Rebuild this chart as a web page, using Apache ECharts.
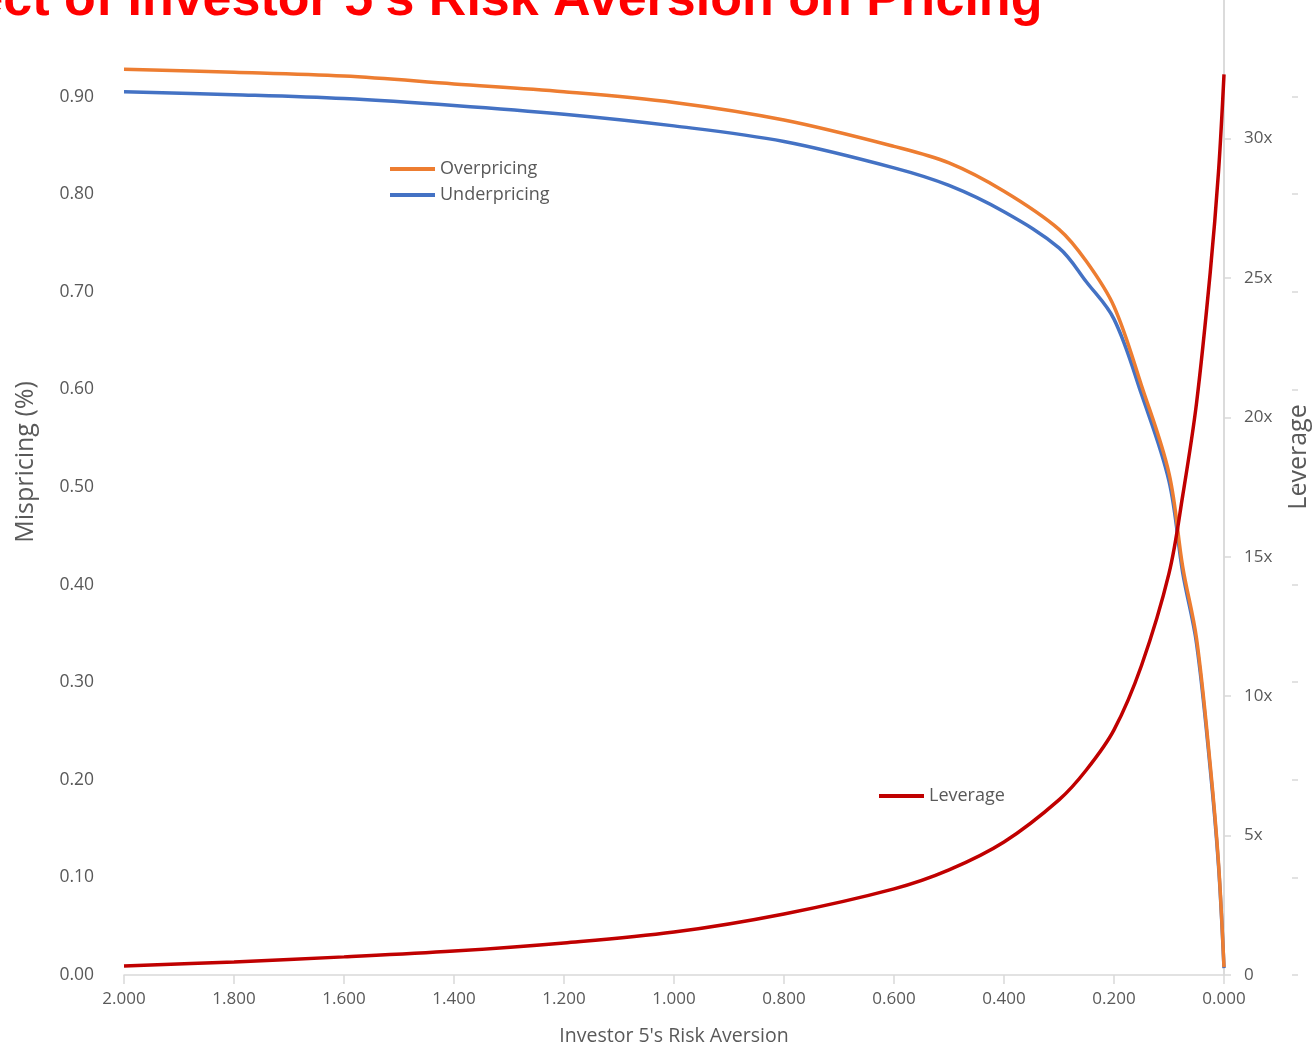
<!DOCTYPE html>
<html>
<head>
<meta charset="utf-8">
<script src="https://cdn.jsdelivr.net/npm/echarts@6/dist/echarts.min.js"></script>
<style>
  html, body { margin: 0; padding: 0; background: #fff; overflow: hidden; }
  #chart { width: 1312px; height: 1053px; }
</style>
</head>
<body>
<div id="chart"></div>
<script>
// Investor 5's risk aversion (x) and the resulting mispricing / leverage
const riskAversion = [2.0, 1.8, 1.6, 1.4, 1.2, 1.0, 0.8, 0.6, 0.5, 0.4, 0.3, 0.25, 0.2, 0.15, 0.1, 0.075, 0.05, 0.025, 0.01, 0.0];
const overpricing  = [0.928, 0.925, 0.921, 0.913, 0.905, 0.894, 0.876, 0.849, 0.832, 0.803, 0.764, 0.731, 0.685, 0.604, 0.514, 0.418, 0.345, 0.215, 0.115, 0.008];
const underpricing = [0.905, 0.902, 0.898, 0.891, 0.882, 0.870, 0.854, 0.827, 0.809, 0.782, 0.745, 0.710, 0.672, 0.595, 0.506, 0.412, 0.340, 0.211, 0.112, 0.007];
const leverage     = [0.32, 0.47, 0.65, 0.86, 1.15, 1.54, 2.19, 3.09, 3.77, 4.77, 6.28, 7.36, 8.79, 11.1, 14.4, 17.2, 20.5, 25.2, 28.8, 32.3];

const pairs = vals => riskAversion.map((x, i) => [x, vals[i]]);

const GREY = '#595959';
const AXIS = '#D9D9D9';
const FONT = '"Open Sans", "Noto Sans", sans-serif';

const chart = echarts.init(document.getElementById('chart'), null, { renderer: 'canvas' });

chart.setOption({
  backgroundColor: '#ffffff',
  animation: false,
  title: {
    text: "Effect of Investor 5's Risk Aversion on Pricing",
    left: -100,
    top: -30,
    textStyle: { color: '#FF0000', fontSize: 52, fontWeight: 'bold', fontFamily: 'Arial, "Liberation Sans", sans-serif' }
  },
  grid: { left: 124, width: 1100, top: -1, height: 976, containLabel: false, outerBoundsMode: 'none' },
  legend: [
    {
      data: ['Overpricing', 'Underpricing'],
      orient: 'vertical',
      left: 385, top: 155,
      icon: 'rect', itemWidth: 45, itemHeight: 4, itemGap: 8,
      textStyle: { color: GREY, fontSize: 18, fontFamily: FONT }
    },
    {
      data: ['Leverage'],
      left: 874, top: 782,
      icon: 'rect', itemWidth: 45, itemHeight: 4,
      textStyle: { color: GREY, fontSize: 18, fontFamily: FONT }
    }
  ],
  xAxis: {
    type: 'value', inverse: true, min: 0, max: 2, interval: 0.2,
    name: "Investor 5's Risk Aversion", nameLocation: 'middle', nameGap: 51,
    nameTextStyle: { color: GREY, fontSize: 19.5, fontFamily: FONT },
    axisLine: { show: true, lineStyle: { color: AXIS, width: 1.5 } },
    axisTick: { show: true, length: 9, lineStyle: { color: AXIS, width: 1.5 } },
    axisLabel: { color: GREY, fontSize: 17, fontFamily: FONT, margin: 16, formatter: v => v.toFixed(3) },
    splitLine: { show: false }
  },
  yAxis: [
    {
      type: 'value', position: 'left', min: 0, max: 1, interval: 0.1,
      name: 'Mispricing (%)', nameLocation: 'middle', nameGap: 86,
      nameTextStyle: { color: GREY, fontSize: 25, fontFamily: FONT, padding: [0, 0, 0, 50] },
      axisLine: { show: true, lineStyle: { color: AXIS, width: 1.5 } },
      axisTick: { show: false },
      axisLabel: { color: GREY, fontSize: 17.5, fontFamily: FONT, margin: 30, showMaxLabel: false, formatter: v => v.toFixed(2) },
      splitLine: { show: false }
    },
    {
      type: 'value', position: 'right', min: 0, max: 35, interval: 5,
      name: 'Leverage', nameLocation: 'middle', nameGap: 62,
      nameTextStyle: { color: GREY, fontSize: 25, fontFamily: FONT, padding: [0, 0, 0, 60] },
      axisLine: { show: true, lineStyle: { color: AXIS, width: 1.5 } },
      axisTick: { show: true, length: 7, lineStyle: { color: AXIS, width: 1.5 } },
      axisLabel: { color: GREY, fontSize: 17, fontFamily: FONT, margin: 20, showMaxLabel: false, formatter: v => v === 0 ? '0' : v + 'x' },
      splitLine: { show: false }
    },
    {
      // secondary tick strip repeating the mispricing scale on the far right
      type: 'value', position: 'right', offset: 68, min: 0, max: 1, interval: 0.1,
      axisLine: { show: false },
      axisTick: { show: true, length: 6, lineStyle: { color: AXIS, width: 1.5 } },
      axisLabel: { show: false },
      splitLine: { show: false }
    }
  ],
  series: [
    {
      name: 'Underpricing', type: 'line', yAxisIndex: 0, data: pairs(underpricing),
      smooth: 0.35, showSymbol: false, symbol: 'none',
      color: '#4472C4', lineStyle: { color: '#4472C4', width: 3.5 }
    },
    {
      name: 'Overpricing', type: 'line', yAxisIndex: 0, data: pairs(overpricing),
      smooth: 0.35, showSymbol: false, symbol: 'none',
      color: '#ED7D31', lineStyle: { color: '#ED7D31', width: 3.5 }
    },
    {
      name: 'Leverage', type: 'line', yAxisIndex: 1, data: pairs(leverage),
      smooth: 0.35, showSymbol: false, symbol: 'none',
      color: '#C00000', lineStyle: { color: '#C00000', width: 3.5 }
    }
  ]
});
</script>
</body>
</html>
